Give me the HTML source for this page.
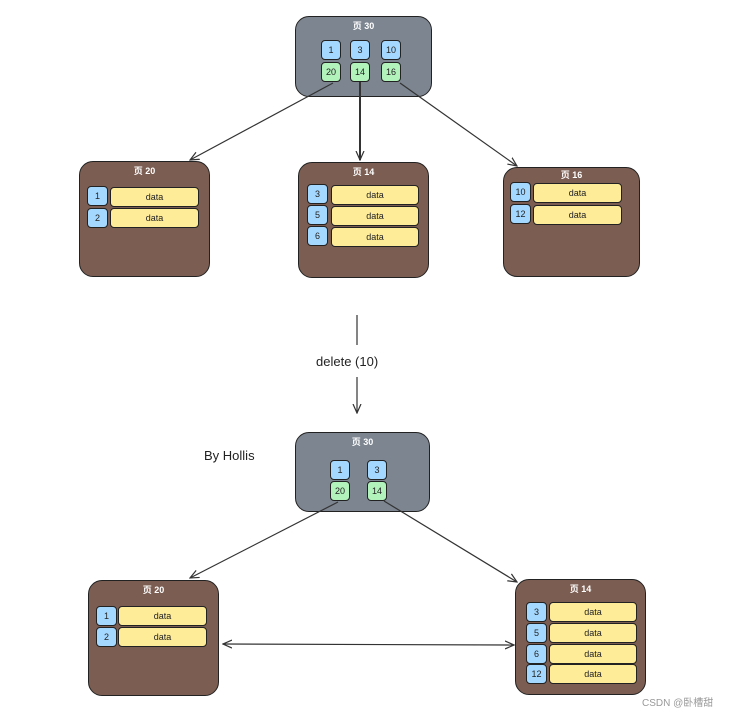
<!DOCTYPE html>
<html><head><meta charset="utf-8"><style>
body{margin:0;width:739px;height:714px;background:#fff;position:relative;overflow:hidden;font-family:"Liberation Sans","Noto Sans CJK SC",sans-serif}
.n{position:absolute;border:1.5px solid #222;border-radius:14px;box-sizing:border-box}
.g{background:#7c8590}.b{background:#7b5d52}
.t{position:absolute;left:0;right:0;text-align:center;color:#fff;font-size:9px;font-weight:bold;line-height:10px}
.k{position:absolute;border:1.5px solid #222;border-radius:4px;box-sizing:border-box;font-size:9px;color:#222;text-align:center;display:flex;align-items:center;justify-content:center}
.bl{background:#a5d8ff}.gr{background:#b2f2bb}.y{background:#ffec99}
.lbl{position:absolute;font-size:13px;color:#222}
</style></head><body>
<div class="lbl" style="left:316px;top:354px">delete (10)</div>
<div class="lbl" style="left:204px;top:448px">By Hollis</div>
<div style="position:absolute;left:642px;top:694px;font-size:10px;color:#999">CSDN @卧槽甜</div>

<div class="n g" style="left:295px;top:16px;width:137px;height:81px"><div class="t" style="top:4px">页 30</div></div>
<div class="k bl" style="left:321px;top:40px;width:20px;height:20px">1</div>
<div class="k bl" style="left:350px;top:40px;width:20px;height:20px">3</div>
<div class="k bl" style="left:381px;top:40px;width:20px;height:20px">10</div>
<div class="k gr" style="left:321px;top:62px;width:20px;height:20px">20</div>
<div class="k gr" style="left:350px;top:62px;width:20px;height:20px">14</div>
<div class="k gr" style="left:381px;top:62px;width:20px;height:20px">16</div>

<div class="n b" style="left:79px;top:161px;width:131px;height:116px"><div class="t" style="top:4px">页 20</div></div>
<div class="k bl" style="left:87px;top:186px;width:21px;height:20px">1</div><div class="k y" style="left:110px;top:187px;width:89px;height:20px">data</div>
<div class="k bl" style="left:87px;top:208px;width:21px;height:20px">2</div><div class="k y" style="left:110px;top:208px;width:89px;height:20px">data</div>

<div class="n b" style="left:298px;top:162px;width:131px;height:116px"><div class="t" style="top:4px">页 14</div></div>
<div class="k bl" style="left:307px;top:184px;width:21px;height:20px">3</div><div class="k y" style="left:331px;top:185px;width:88px;height:20px">data</div>
<div class="k bl" style="left:307px;top:205px;width:21px;height:20px">5</div><div class="k y" style="left:331px;top:206px;width:88px;height:20px">data</div>
<div class="k bl" style="left:307px;top:226px;width:21px;height:20px">6</div><div class="k y" style="left:331px;top:227px;width:88px;height:20px">data</div>

<div class="n b" style="left:503px;top:167px;width:137px;height:110px"><div class="t" style="top:2px">页 16</div></div>
<div class="k bl" style="left:510px;top:182px;width:21px;height:20px">10</div><div class="k y" style="left:533px;top:183px;width:89px;height:20px">data</div>
<div class="k bl" style="left:510px;top:204px;width:21px;height:20px">12</div><div class="k y" style="left:533px;top:205px;width:89px;height:20px">data</div>

<div class="n g" style="left:295px;top:432px;width:135px;height:80px"><div class="t" style="top:4px">页 30</div></div>
<div class="k bl" style="left:330px;top:460px;width:20px;height:20px">1</div>
<div class="k bl" style="left:367px;top:460px;width:20px;height:20px">3</div>
<div class="k gr" style="left:330px;top:481px;width:20px;height:20px">20</div>
<div class="k gr" style="left:367px;top:481px;width:20px;height:20px">14</div>

<div class="n b" style="left:88px;top:580px;width:131px;height:116px"><div class="t" style="top:4px">页 20</div></div>
<div class="k bl" style="left:96px;top:606px;width:21px;height:20px">1</div><div class="k y" style="left:118px;top:606px;width:89px;height:20px">data</div>
<div class="k bl" style="left:96px;top:627px;width:21px;height:20px">2</div><div class="k y" style="left:118px;top:627px;width:89px;height:20px">data</div>

<div class="n b" style="left:515px;top:579px;width:131px;height:116px"><div class="t" style="top:4px">页 14</div></div>
<div class="k bl" style="left:526px;top:602px;width:21px;height:20px">3</div><div class="k y" style="left:549px;top:602px;width:88px;height:20px">data</div>
<div class="k bl" style="left:526px;top:623px;width:21px;height:20px">5</div><div class="k y" style="left:549px;top:623px;width:88px;height:20px">data</div>
<div class="k bl" style="left:526px;top:644px;width:21px;height:20px">6</div><div class="k y" style="left:549px;top:644px;width:88px;height:20px">data</div>
<div class="k bl" style="left:526px;top:664px;width:21px;height:20px">12</div><div class="k y" style="left:549px;top:664px;width:88px;height:20px">data</div>

<svg width="739" height="714" style="position:absolute;left:0;top:0;z-index:5">
<defs><marker id="a" markerWidth="10" markerHeight="10" refX="9" refY="5" orient="auto-start-reverse" markerUnits="userSpaceOnUse"><path d="M0,1 L9,5 L0,9" fill="none" stroke="#333" stroke-width="1.2"/></marker></defs>
<g stroke="#333" stroke-width="1.2" fill="none">
<line x1="333" y1="83" x2="190" y2="160" marker-end="url(#a)"/>
<line x1="360" y1="82" x2="360" y2="160" marker-end="url(#a)" stroke-width="2"/>
<line x1="400" y1="83" x2="517" y2="166" marker-end="url(#a)"/>
<line x1="357" y1="315" x2="357" y2="345"/>
<line x1="357" y1="377" x2="357" y2="413" marker-end="url(#a)"/>
<line x1="338" y1="502" x2="190" y2="578" marker-end="url(#a)"/>
<line x1="384" y1="501" x2="517" y2="582" marker-end="url(#a)"/>
<line x1="223" y1="644" x2="514" y2="645" marker-start="url(#a)" marker-end="url(#a)"/>
</g></svg>
</body></html>
